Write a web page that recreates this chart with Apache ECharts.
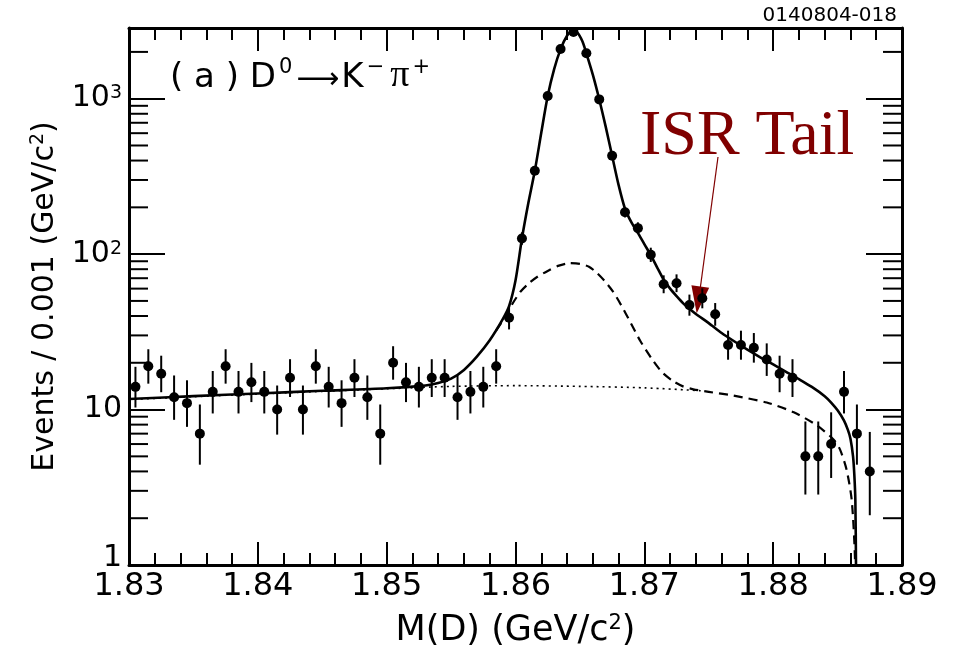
<!DOCTYPE html>
<html>
<head>
<meta charset="utf-8">
<script src="https://cdn.jsdelivr.net/npm/echarts@6/dist/echarts.min.js"></script>
<style>
html, body { margin: 0; padding: 0; background: #fff; }
#main { width: 957px; height: 654px; }
</style>
</head>
<body>
<div id="main"></div>
<script>
// D0 -> K- pi+ mass spectrum, 1 MeV bins
var binX = [1.8305, 1.8315, 1.8325, 1.8335, 1.8345, 1.8355, 1.8365, 1.8375, 1.8385, 1.8395,
	1.8405, 1.8415, 1.8425, 1.8435, 1.8445, 1.8455, 1.8465, 1.8475, 1.8485, 1.8495,
	1.8505, 1.8515, 1.8525, 1.8535, 1.8545, 1.8555, 1.8565, 1.8575, 1.8585, 1.8595,
	1.8605, 1.8615, 1.8625, 1.8635, 1.8645, 1.8655, 1.8665, 1.8675, 1.8685, 1.8695,
	1.8705, 1.8715, 1.8725, 1.8735, 1.8745, 1.8755, 1.8765, 1.8775, 1.8785, 1.8795,
	1.8805, 1.8815, 1.8825, 1.8835, 1.8845, 1.8855, 1.8865, 1.8875];
var counts = [14, 19, 17, 12, 11, 7, 13, 19, 13, 15,
	13, 10, 16, 10, 19, 14, 11, 16, 12, 7,
	20, 15, 14, 16, 16, 12, 13, 14, 19, 39,
	126, 344, 1040, 2090, 2690, 1960, 990, 429, 186, 147,
	99, 64, 65, 47, 52, 41, 26, 26, 25, 21,
	17, 16, 5, 5, 6, 13, 7, 4];
// lower / upper ends of the error bars
var errLow = [10.31, 14.68, 12.93, 8.59, 7.74, 4.42, 9.44, 14.68, 9.44, 11.17,
	9.44, 6.90, 12.05, 6.90, 14.68, 10.31, 7.74, 12.05, 8.59, 4.42,
	15.57, 11.17, 10.31, 12.05, 12.05, 8.59, 9.44, 10.31, 14.68, 32.78,
	114.8, 325.5, 1007.8, 2044.8, 2638.6, 1916, 958.5, 408.3, 172.4, 134.9,
	89.07, 56.03, 56.97, 40.17, 44.82, 34.62, 20.93, 20.93, 20.04, 16.46,
	12.93, 12.05, 2.84, 2.84, 3.63, 9.44, 4.42, 2.09];
var errHigh = [18.84, 24.44, 22.21, 16.57, 15.43, 10.78, 17.71, 24.44, 17.71, 19.97,
	17.71, 14.28, 21.09, 14.28, 24.44, 18.84, 15.43, 21.09, 16.57, 10.78,
	25.56, 19.97, 18.84, 21.09, 21.09, 16.57, 17.71, 18.84, 24.44, 46.3,
	138.3, 363.6, 1073.3, 2136.7, 2743.9, 2005.3, 1022.5, 450.7, 200.7, 160.2,
	110, 73.05, 74.11, 54.91, 60.26, 48.46, 32.17, 32.17, 31.07, 26.66,
	22.21, 21.09, 8.38, 8.38, 9.60, 17.71, 10.78, 7.18];

// total fit (solid)
var fitX = [1.830, 1.835, 1.840, 1.845, 1.850, 1.853, 1.854, 1.855, 1.856, 1.857,
	1.858, 1.859, 1.8595, 1.8600, 1.8605, 1.8610, 1.8615, 1.8620, 1.8625, 1.8630,
	1.8635, 1.8640, 1.8644, 1.8648, 1.8652, 1.8655, 1.8660, 1.8665, 1.8670, 1.8675,
	1.8680, 1.8685, 1.8690, 1.8695, 1.8700, 1.8705, 1.8710, 1.8715, 1.8720, 1.8725,
	1.8730, 1.8735, 1.8740, 1.8750, 1.8760, 1.8770, 1.8780, 1.8790, 1.8800, 1.8810,
	1.8820, 1.8830, 1.8840, 1.8845, 1.8850, 1.8855, 1.8858, 1.8860, 1.8862, 1.8863,
	1.88638, 1.88643, 1.88648];
var fitY = [11.7, 12.2, 12.7, 13.2, 13.7, 14.3, 14.8, 15.8, 18.0, 21.9,
	27.9, 38.0, 46.2, 67.6, 126, 214, 344, 603, 1040, 1549,
	2084, 2541, 2716, 2661, 2333, 1959, 1429, 991, 661, 429,
	279, 196, 160, 137, 116, 98.6, 82, 68.5, 60, 53.7,
	48.4, 44.5, 41.2, 36.0, 31.1, 27.4, 24.3, 21.7, 19.5, 17.5,
	15.7, 14.0, 12.2, 11.1, 9.9, 8.5, 7.4, 6.5, 5.0, 3.8,
	2.6, 1.0, 0.3];

// wide component + background (dashed)
var wideX = [1.8585, 1.8592, 1.8598, 1.8604, 1.8610, 1.8617, 1.8625, 1.8633, 1.8642, 1.8650,
	1.8657, 1.8663, 1.8669, 1.8676, 1.8682, 1.8689, 1.8697, 1.8707, 1.8714, 1.8722,
	1.8730, 1.8738, 1.8750, 1.8769, 1.8795, 1.8816, 1.8834, 1.8847, 1.8852, 1.8857,
	1.8861, 1.88635, 1.8864];
var wideY = [32.3, 39.5, 48.5, 57.5, 64.5, 71.5, 78, 84, 87.5, 86.5,
	83, 76, 67.5, 56.9, 47, 36.7, 27.5, 20.5, 17.3, 15.3,
	14.1, 13.5, 13.0, 12.3, 11.1, 9.6, 7.9, 6.4, 5.5, 4.1,
	2.6, 1.1, 0.3];

// background (dotted)
var bkgX = [1.830, 1.835, 1.840, 1.845, 1.850, 1.855, 1.860, 1.865, 1.870, 1.8745];
var bkgY = [11.6, 12.1, 12.6, 13.1, 13.6, 14.1, 14.25, 14.1, 13.8, 13.2];

var xMin = 1.83, xMax = 1.89;
var yMin = 1, yMax = 2850;
var yMinorTicks = [2, 3, 4, 5, 6, 7, 8, 9, 20, 30, 40, 50, 60, 70, 80, 90,
	200, 300, 400, 500, 600, 700, 800, 900, 2000];

var font = 'DejaVu Sans';

function pairs(xs, ys) {
	var out = [];
	for (var i = 0; i < xs.length; i++) {
		out.push([xs[i], ys[i]]);
	}
	return out;
}

var points = pairs(binX, counts);
var bars = [];
for (var i = 0; i < binX.length; i++) {
	bars.push([binX[i], errLow[i], errHigh[i]]);
}
var minorData = [];
for (var i = 0; i < yMinorTicks.length; i++) {
	minorData.push([xMin, yMinorTicks[i]]);
}

function yLabel(v) {
	var p = Math.round(Math.log(v) / Math.LN10);
	if (Math.abs(v - Math.pow(10, p)) > 1e-6 * v) return '';
	if (p == 0) return '{one|1}';
	if (p == 1) return '{n|10}';
	return '{n|10}{sup|' + p + '}';
}

var axisLine = { show: true, lineStyle: { color: '#000', width: 3 } };

var myChart = echarts.init(document.getElementById('main'));
var option = {
	animation: false,
	backgroundColor: '#fff',
	grid: { left: 129, right: 55, top: 28, bottom: 82 },
	xAxis: [{
		type: 'value', position: 'bottom',
		min: xMin, max: xMax, interval: 0.01,
		axisLine: axisLine,
		axisTick: { inside: true, length: 23, lineStyle: { color: '#000', width: 2 } },
		minorTick: { show: true, splitNumber: 5, length: 12, lineStyle: { color: '#000', width: 2 } },
		splitLine: { show: false },
		axisLabel: {
			color: '#000', fontFamily: font, fontSize: 32, margin: 6,
			formatter: function(v) { return v.toFixed(2); }
		},
		name: 'M(D) (GeV/c{sup|2})',
		nameLocation: 'middle',
		nameGap: 48,
		nameTextStyle: {
			color: '#000', fontFamily: font, fontSize: 35, lineHeight: 36,
			rich: { sup: { fontFamily: font, fontSize: 21, lineHeight: 21, verticalAlign: 'top', color: '#000' } }
		}
	}, {
		type: 'value', position: 'top',
		min: xMin, max: xMax, interval: 0.01,
		axisLine: axisLine,
		axisTick: { inside: true, length: 23, lineStyle: { color: '#000', width: 2 } },
		minorTick: { show: true, splitNumber: 5, length: 12, lineStyle: { color: '#000', width: 2 } },
		splitLine: { show: false },
		axisLabel: { show: false }
	}],
	yAxis: [{
		type: 'log', logBase: 10, position: 'left',
		min: yMin, max: yMax,
		axisLine: axisLine,
		axisTick: { inside: true, length: 36, lineStyle: { color: '#000', width: 2 } },
		splitLine: { show: false },
		axisLabel: {
			margin: 7, color: '#000', showMaxLabel: false,
			formatter: yLabel,
			rich: {
				n: { fontFamily: font, fontSize: 30, lineHeight: 30, color: '#000' },
				sup: { fontFamily: font, fontSize: 19, lineHeight: 19, verticalAlign: 'top', color: '#000' },
				one: { fontFamily: font, fontSize: 30, lineHeight: 30, color: '#000', padding: [0, 0, 14, 0] }
			}
		},
		name: 'Events / 0.001 (GeV/c{sup|2})',
		nameLocation: 'middle',
		nameRotate: 90,
		nameGap: 62,
		nameTextStyle: {
			color: '#000', fontFamily: font, fontSize: 30, lineHeight: 32,
			rich: { sup: { fontFamily: font, fontSize: 19, lineHeight: 19, verticalAlign: 'top', color: '#000' } }
		}
	}, {
		type: 'log', logBase: 10, position: 'right',
		min: yMin, max: yMax,
		axisLine: axisLine,
		axisTick: { inside: true, length: 36, lineStyle: { color: '#000', width: 2 } },
		splitLine: { show: false },
		axisLabel: { show: false }
	}],
	graphic: [{
		type: 'text', right: 60, top: 6,
		style: { text: '0140804-018', font: '20px "DejaVu Sans"', fill: '#000' }
	}, {
		type: 'text', left: 170, top: 57,
		style: {
			text: '{m|( a ) D}{sup|0}{arr|⟶}{m|K}{sup|−}{pi|π}{sup|+}',
			rich: {
				m: { fontFamily: font, fontSize: 34, lineHeight: 38, verticalAlign: 'bottom', fill: '#000' },
				arr: { fontFamily: font, fontSize: 30, lineHeight: 38, verticalAlign: 'bottom', fill: '#000', padding: [0, 2, 0, 2] },
				sup: { fontFamily: font, fontSize: 21, lineHeight: 21, verticalAlign: 'top', fill: '#000', padding: [0, 2, 0, 3] },
				pi: { fontFamily: 'Liberation Serif', fontSize: 38, lineHeight: 38, verticalAlign: 'bottom', fill: '#000', padding: [0, 0, 0, 4] }
			}
		}
	}, {
		type: 'text', left: 640, top: 105,
		style: { text: 'ISR Tail', font: '64px "Liberation Serif"', fill: '#800000' }
	}, {
		type: 'line',
		shape: { x1: 718, y1: 157, x2: 700, y2: 290 },
		style: { stroke: '#800000', lineWidth: 1.2 }
	}, {
		type: 'polygon',
		shape: { points: [[696.7, 313.3], [709.2, 287.7], [691.4, 285.3]] },
		style: { fill: '#800000' }
	}],
	series: [{
		type: 'custom', name: 'minor',
		xAxisIndex: 0, yAxisIndex: 0, silent: true, clip: false,
		data: minorData,
		renderItem: function(params, api) {
			var v = api.value(1);
			var a = api.coord([xMin, v]);
			var b = api.coord([xMax, v]);
			return {
				type: 'group',
				children: [
					{ type: 'line', shape: { x1: a[0], y1: a[1], x2: a[0] + 19, y2: a[1] }, style: { stroke: '#000', lineWidth: 2 } },
					{ type: 'line', shape: { x1: b[0] - 19, y1: b[1], x2: b[0], y2: b[1] }, style: { stroke: '#000', lineWidth: 2 } }
				]
			};
		}
	}, {
		type: 'line', name: 'background',
		data: pairs(bkgX, bkgY),
		showSymbol: false, smooth: 0.25,
		lineStyle: { color: '#000', width: 1.6, type: [2, 4] }
	}, {
		type: 'line', name: 'wide',
		data: pairs(wideX, wideY),
		showSymbol: false, smooth: 0.25,
		lineStyle: { color: '#000', width: 2.2, type: [9, 6] }
	}, {
		type: 'line', name: 'fit',
		data: pairs(fitX, fitY),
		showSymbol: false, smooth: 0.25,
		lineStyle: { color: '#000', width: 2.6 }
	}, {
		type: 'custom', name: 'errors',
		silent: true,
		encode: { x: 0, y: [1, 2] },
		data: bars,
		renderItem: function(params, api) {
			var lo = api.coord([api.value(0), api.value(1)]);
			var hi = api.coord([api.value(0), api.value(2)]);
			return { type: 'line', shape: { x1: lo[0], y1: lo[1], x2: hi[0], y2: hi[1] }, style: { stroke: '#000', lineWidth: 2 } };
		}
	}, {
		type: 'scatter', name: 'data',
		data: points,
		symbol: 'circle', symbolSize: 10,
		itemStyle: { color: '#000', opacity: 1 }
	}]
};
myChart.setOption(option);
</script>
</body>
</html>
